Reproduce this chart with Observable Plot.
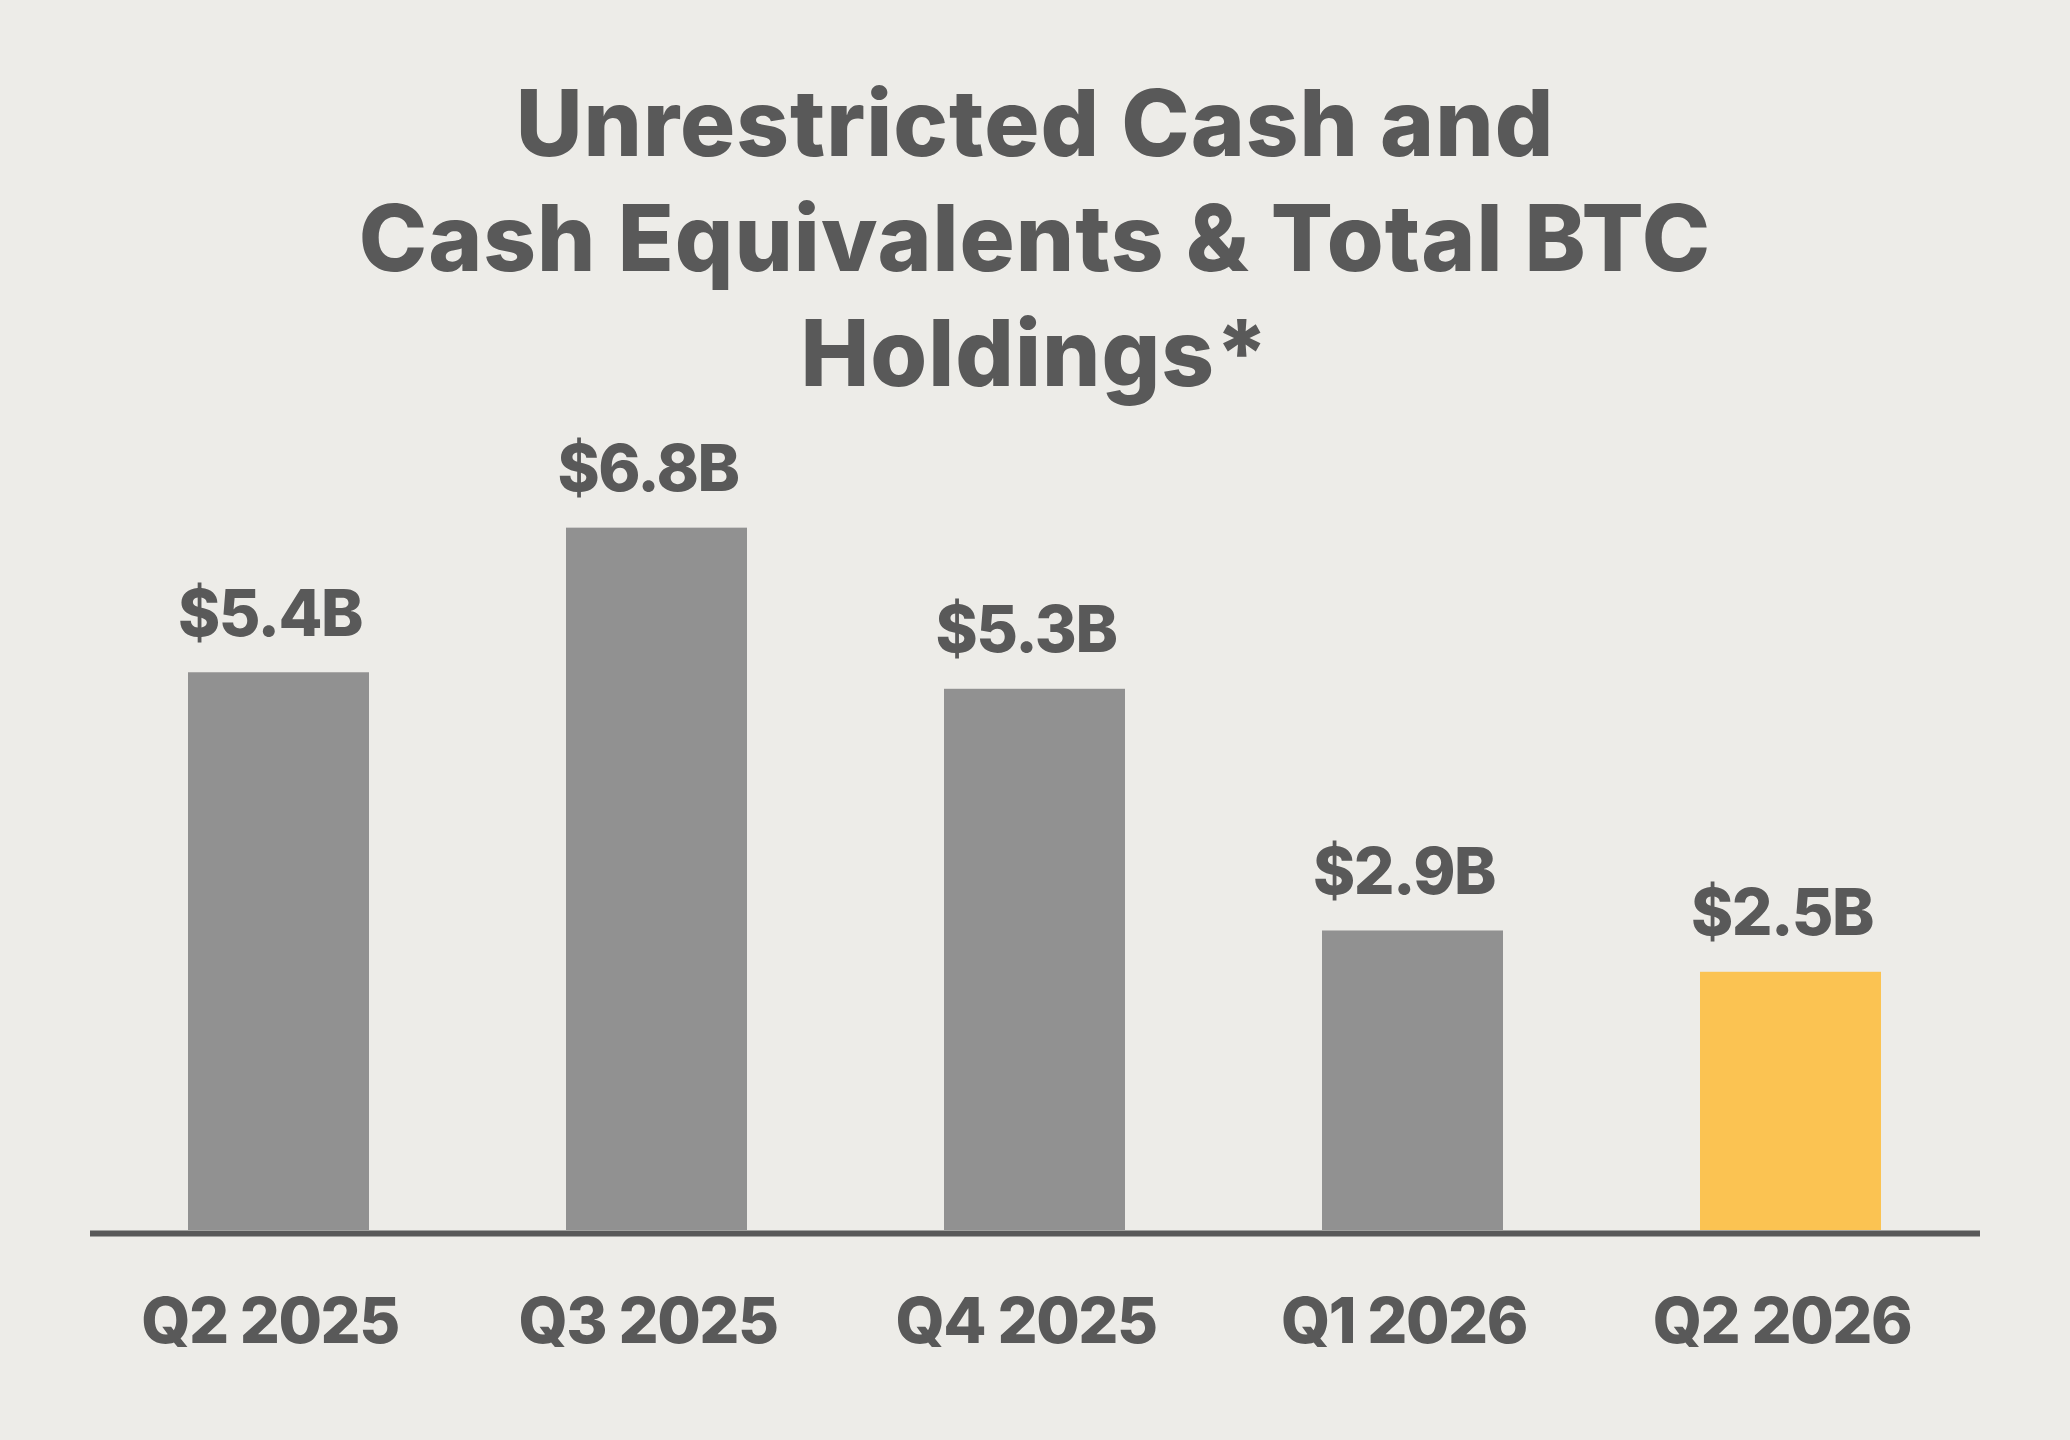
<!DOCTYPE html>
<html>
<head>
<meta charset="utf-8">
<script src="https://cdn.jsdelivr.net/npm/d3@7"></script>
<script src="https://cdn.jsdelivr.net/npm/@observablehq/plot@0.6"></script>
<style>
  html, body { margin: 0; padding: 0; background: #EDECE8; }
  #wrap { width: 2070px; height: 1440px; background: #EDECE8; overflow: hidden; }
  #title {
    font-family: Inter, "Noto Sans", sans-serif;
    font-weight: 800;
    font-size: 92px;
    line-height: 115px;
    color: #595959;
    text-align: center;
    padding-top: 65px;
    height: 345px;
    letter-spacing: 1px;
  }
  #chart svg { display: block; }
</style>
</head>
<body>
<div id="wrap">
  <div id="title">Unrestricted Cash and<br>Cash Equivalents &amp; Total BTC<br>Holdings*</div>
  <div id="chart"></div>
</div>
<script>
const quarters = ["Q2 2025", "Q3 2025", "Q4 2025", "Q1 2026", "Q2 2026"];
const values = [5.4, 6.8, 5.24, 2.9, 2.5];
const labels = ["$5.4B", "$6.8B", "$5.3B", "$2.9B", "$2.5B"];
const highlight = [false, false, false, false, true];

const data = quarters.map((q, i) => ({quarter: q, value: values[i], label: labels[i], hi: highlight[i]}));

const textColor = "#595959";
const font = "Inter, 'Noto Sans', sans-serif";

const chart = Plot.plot({
  width: 2070,
  height: 1030,
  marginTop: 97,
  marginBottom: 210,
  marginLeft: 90,
  marginRight: 90,
  style: {background: "transparent", fontFamily: font, color: textColor},
  x: {domain: quarters, paddingInner: 0.521, paddingOuter: 0.26, label: null},
  y: {domain: [0, 7], axis: null},
  marks: [
    Plot.barY(data, {x: "quarter", y: "value", fill: d => d.hi ? "#FBC352" : "#919191"}),
    Plot.ruleY([0], {stroke: "#595959", strokeWidth: 6, dy: 3}),
    Plot.text(data, {x: "quarter", y: "value", text: "label", lineAnchor: "bottom", dy: -37, dx: -9,
      fontSize: 64, fontWeight: 800, fill: textColor, fontFamily: font}),
    Plot.axisX({tickSize: 0, tickPadding: 68, fontSize: 63, fontWeight: 800, fill: textColor,
      fontFamily: font, dx: -9, label: null})
  ]
});
chart.querySelectorAll("text").forEach(t => t.style.letterSpacing = "-1.5px");
document.getElementById("chart").appendChild(chart);
</script>
</body>
</html>
